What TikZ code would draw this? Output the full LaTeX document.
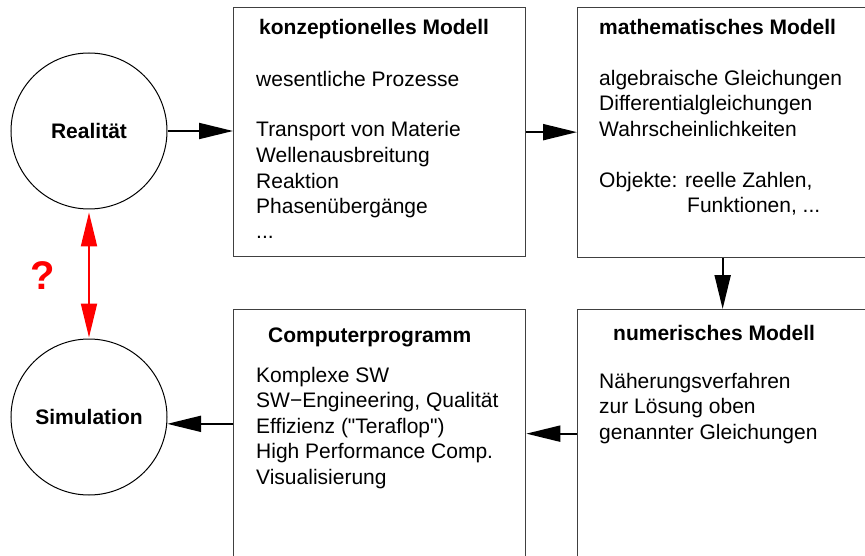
\documentclass[tikz,border=0pt]{standalone}
\usepackage{fontspec}
\setmainfont{Liberation Sans}[Ligatures=TeXOff]
\definecolor{alert}{RGB}{255,0,0}
\definecolor{frame}{RGB}{64,64,64}
\usepackage{tikz}
\usetikzlibrary{
	arrows.meta,
	positioning
}
\tikzset{
  % arrow
	cstra/.style      ={-{Triangle[length=34pt,width=16pt]}, line width=2pt},        % right arrow
	cstlra/.style     ={{Triangle[length=34pt,width=16pt]}-{Triangle[length=34pt,width=16pt]}, line width=2pt, alert}, % left-right arrow
  % node
	cstcirc/.style    ={circle, draw=black, line width=1pt, minimum size=156pt, inner sep=0pt,
	                    font=\fontsize{21pt}{25.5pt}\selectfont\bfseries},
	cstbox/.style     ={rectangle, draw=frame, line width=1.3pt, inner sep=0pt, anchor=north west},
	csttitle/.style   ={anchor=base west, inner sep=0pt, font=\fontsize{21pt}{25.5pt}\selectfont\bfseries},
	csttext/.style    ={anchor=base west, inner sep=0pt, align=left, font=\fontsize{21pt}{25.5pt}\selectfont} % base = letzte Zeile
}

\begin{document}
\begin{tikzpicture}[x=1pt,y=-1pt]
	\useasboundingbox (0,0) rectangle (865,556);
	\clip (0,0) rectangle (865,556);
	% Kreise
	\node[cstcirc] (R) at (89,131) {Realität};
	\node[cstcirc] (S) at (89,417) {Simulation};
	% Kaesten
	\node[cstbox,minimum width=292pt,minimum height=249pt] (K) at (233,7) {};
	\node[cstbox,minimum width=290pt,minimum height=250pt] (M) at (577,7) {};
	\node[cstbox,minimum width=290pt,minimum height=248pt] (N) at (577,309) {};
	\node[cstbox,minimum width=292pt,minimum height=248pt] (C) at (233,309) {};
	% Texte
	\node[csttitle] (Kt) at (259,35) {konzeptionelles Modell};
	\node[csttext]  (Kb) at (256,239) {wesentliche Prozesse\\[25.5pt]
		Transport von Materie\\ Wellenausbreitung\\ Reaktion\\ Phasenübergänge\\ ...};
	\node[csttitle] (Mt) at (599,35) {mathematisches Modell};
	\node[csttext]  (Mb) at (599,213) {algebraische Gleichungen\\ Differentialgleichungen\\
		Wahrscheinlichkeiten\\[25.5pt] Objekte: reelle Zahlen,\\ \hspace*{88pt}Funktionen, ...};
	\node[csttitle] (Nt) at (613,340) {numerisches Modell};
	\node[csttext]  (Nb) at (599,439) {Näherungsverfahren\\ zur Lösung oben\\ genannter Gleichungen};
	\node[csttitle] (Ct) at (268,342) {Computerprogramm};
	\node[csttext]  (Cb) at (256,484) {Komplexe SW\\ SW−Engineering, Qualität\\ Effizienz ("Teraflop")\\
		High Performance Comp.\\ Visualisierung};
	% Pfeile
	\draw[cstra] (R.east) -- (R.east -| K.west);
	\draw[cstra] (K.east) -- (K.east -| M.west);
	\draw[cstra] (M.south) -- (N.north);
	\draw[cstra] (N.west) -- (C.east);
	\draw[cstra] (C.west |- S.-5) -- (S.-5);
	\draw[cstlra] ([yshift=-3pt]R.south) -- ([yshift=1pt]S.north);
	\node[text=alert,inner sep=0pt,font=\fontsize{40pt}{40pt}\selectfont\bfseries] (q) at (43,276) {?};
\end{tikzpicture}
\end{document}
